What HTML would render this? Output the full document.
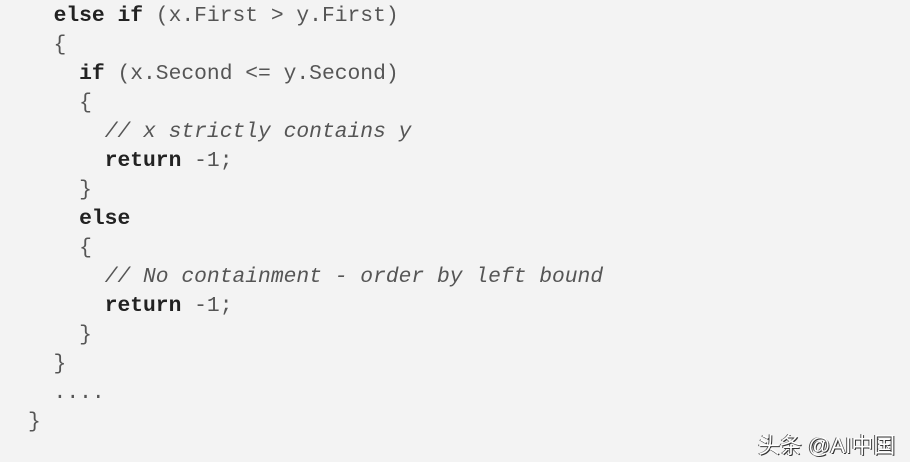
<!DOCTYPE html>
<html><head><meta charset="utf-8"><style>
html,body{margin:0;padding:0;background:#fff;}
#bg{position:absolute;left:0;top:0;width:910px;height:462px;background:#f3f3f3;overflow:hidden;}
pre{position:absolute;left:28px;top:2px;margin:0;font-family:"Liberation Mono","Courier New",monospace;font-size:21.3px;line-height:29px;color:#555;}
b{color:#222;}
i{color:#555;}
#wm{position:absolute;left:758px;top:428px;font-family:"Liberation Sans","Noto Sans CJK SC",sans-serif;font-size:22px;color:#fff;text-shadow:1px 1px 0 #333,-1px 0 0 #555;}
</style></head><body><div id="bg">
<pre>  <b>else if</b> (x.First &gt; y.First)
  {
    <b>if</b> (x.Second &lt;= y.Second)
    {
      <i>// x strictly contains y</i>
      <b>return</b> -1;
    }
    <b>else</b>
    {
      <i>// No containment - order by left bound</i>
      <b>return</b> -1;
    }
  }
  ....
}</pre>
<div id="wm">头条 @AI中国</div>
</div></body></html>
